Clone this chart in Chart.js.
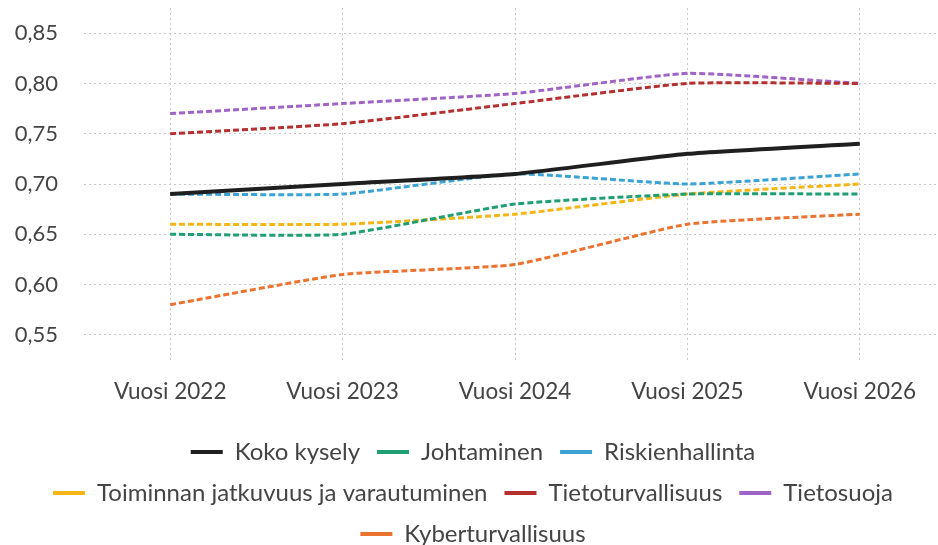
<!DOCTYPE html>
<html>
<head>
<meta charset="utf-8">
<script src="https://cdn.jsdelivr.net/npm/chart.js@4/dist/chart.umd.min.js"></script>
<style>
  html, body { margin: 0; padding: 0; background: #fff; overflow: hidden; }
  #wrap { width: 946px; height: 545px; position: relative; }
</style>
</head>
<body>
<div id="wrap"><canvas id="c"></canvas></div>
<script>
const categories = ['Vuosi 2022', 'Vuosi 2023', 'Vuosi 2024', 'Vuosi 2025', 'Vuosi 2026'];
const seriesNames = ['Koko kysely', 'Johtaminen', 'Riskienhallinta', 'Toiminnan jatkuvuus ja varautuminen', 'Tietoturvallisuus', 'Tietosuoja', 'Kyberturvallisuus'];
const kokoKysely = [0.69, 0.70, 0.71, 0.73, 0.74];
const johtaminen = [0.65, 0.65, 0.68, 0.69, 0.69];
const riskienhallinta = [0.69, 0.69, 0.71, 0.70, 0.71];
const toiminnanJatkuvuus = [0.66, 0.66, 0.67, 0.69, 0.70];
const tietoturvallisuus = [0.75, 0.76, 0.78, 0.80, 0.80];
const tietosuoja = [0.77, 0.78, 0.79, 0.81, 0.80];
const kyberturvallisuus = [0.58, 0.61, 0.62, 0.66, 0.67];
const yTicks = [0.55, 0.60, 0.65, 0.70, 0.75, 0.80, 0.85];

const colors = ['#1f1f1f', '#1f9e74', '#3aa3d4', '#f5b515', '#b3302e', '#a063c6', '#ec7230'];
const values = [kokoKysely, johtaminen, riskienhallinta, toiminnanJatkuvuus, tietoturvallisuus, tietosuoja, kyberturvallisuus];

const datasets = values.map((v, i) => ({
  label: seriesNames[i],
  data: v,
  borderColor: colors[i],
  backgroundColor: colors[i],
  borderWidth: i === 0 ? 4 : 3,
  borderDash: i === 0 ? [] : [6, 3],
  pointRadius: 0,
  tension: 0.15,
  fill: false
}));

const textColor = '#444';
const fontFamily = 'Lato, "Open Sans", sans-serif';
const targetTop = 8;
const targetLegendTop = 423;

const ch = new Chart(document.getElementById('c'), {
  type: 'line',
  data: { labels: categories, datasets },
  options: {
    responsive: true,
    maintainAspectRatio: false,
    animation: false,
    layout: { padding: { top: 8, right: 0, left: 0, bottom: -11 } },
    plugins: {
      tooltip: { enabled: false },
      legend: {
        position: 'bottom',
        labels: {
          color: textColor,
          font: { family: fontFamily, size: 24 },
          boxWidth: 32,
          boxHeight: 4,
          padding: 17,
          generateLabels: (chart) => chart.data.datasets.map((d, i) => ({
            text: d.label,
            fillStyle: d.borderColor,
            strokeStyle: d.borderColor,
            lineWidth: 0,
            lineDash: [],
            fontColor: textColor,
            hidden: false,
            datasetIndex: i
          }))
        }
      }
    },
    scales: {
      x: {
        offset: true,
        grid: { color: '#c8c8c8', lineWidth: 1, drawTicks: false },
        border: { display: false, dash: [2, 3] },
        ticks: { color: textColor, font: { family: fontFamily, size: 22.5 }, padding: 18, maxRotation: 0 },
        afterFit: (s) => { s.height = 63; }
      },
      y: {
        min: 0.525,
        max: 0.875,
        grid: { color: '#c8c8c8', lineWidth: 1, drawTicks: true, tickLength: 26, tickColor: 'rgba(0,0,0,0)' },
        border: { display: false, dash: [2, 3] },
        afterBuildTicks: (s) => { s.ticks = yTicks.map(v => ({ value: v })); },
        ticks: {
          color: textColor,
          font: { family: fontFamily, size: 22, lineHeight: 0.6 },
          padding: 0,
          callback: (v) => Number(v).toFixed(2).replace('.', ',')
        },
        afterFit: (s) => { s.width = 84; }
      }
    }
  }
});

// Nudge layout paddings so the plot area and legend land where the reference has them.
for (let k = 0; k < 4; k++) {
  const pad = ch.options.layout.padding;
  const dTop = ch.chartArea.top - targetTop;
  const dLeg = ch.legend.top - targetLegendTop;
  if (Math.abs(dTop) < 0.5 && Math.abs(dLeg) < 0.5) break;
  pad.top -= dTop;
  pad.bottom += dLeg;
  ch.update();
}
</script>
</body>
</html>
